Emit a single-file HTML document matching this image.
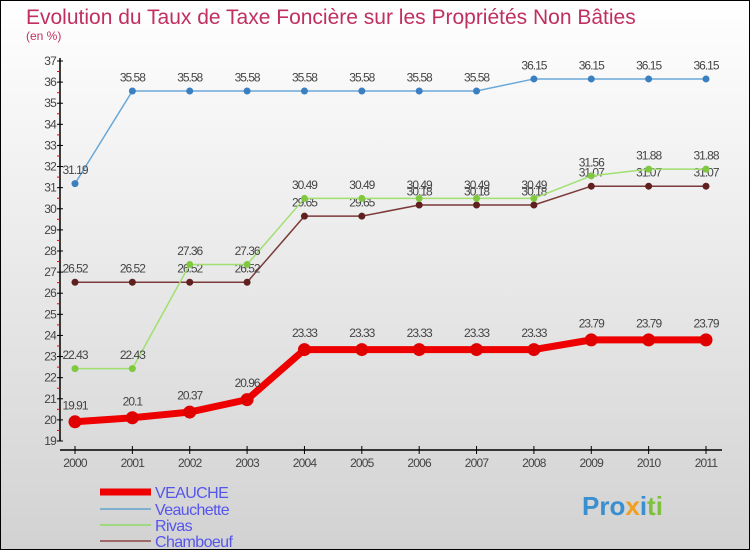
<!DOCTYPE html>
<html><head><meta charset="utf-8"><style>
body{margin:0;width:750px;height:550px;overflow:hidden;font-family:"Liberation Sans",sans-serif}
</style></head><body>
<svg width="750" height="550" xmlns="http://www.w3.org/2000/svg">
<defs><linearGradient id="bg" x1="0" y1="0" x2="0" y2="1"><stop offset="0" stop-color="#ffffff"/><stop offset="1" stop-color="#d2d2d2"/></linearGradient></defs>
<rect x="0.5" y="0.5" width="749" height="549" fill="url(#bg)" stroke="#000"/>
<text x="26" y="24" font-size="21" fill="#c0305f">Evolution du Taux de Taxe Foncière sur les Propriétés Non Bâties</text>
<text x="26" y="40" font-size="12" fill="#c0305f">(en %)</text>
<g id="axes"></g>
<g id="series"></g>
<g id="legend"></g>
<text x="582" y="515" font-size="26" font-weight="bold" fill="#3a8fd0">Pro<tspan fill="#f0a020">x</tspan><tspan fill="#3a8fd0">i</tspan><tspan fill="#80c040">ti</tspan></text>
</svg>
<script>
const years=[2000,2001,2002,2003,2004,2005,2006,2007,2008,2009,2010,2011];
const veauche=[19.91,20.1,20.37,20.96,23.33,23.33,23.33,23.33,23.33,23.79,23.79,23.79];
const veauchette=[31.19,35.58,35.58,35.58,35.58,35.58,35.58,35.58,36.15,36.15,36.15,36.15];
const rivas=[22.43,22.43,27.36,27.36,30.49,30.49,30.49,30.49,30.49,31.56,31.88,31.88];
const chamboeuf=[26.52,26.52,26.52,26.52,29.65,29.65,30.18,30.18,30.18,31.07,31.07,31.07];
const yTicks=[19,20,21,22,23,24,25,26,27,28,29,30,31,32,33,34,35,36,37];
const NS="http://www.w3.org/2000/svg";
function X(i){return 75+i*(706-75)/11;}
function Y(v){return 441-(v-19)*(441-61)/18;}
function mk(t,a,p){const e=document.createElementNS(NS,t);for(const k in a)e.setAttribute(k,a[k]);p.appendChild(e);return e;}
const ax=document.getElementById('axes');
const yl=mk('line',{x1:60,y1:58,x2:60,y2:441,stroke:'#000','stroke-width':1.5},ax);


yTicks.forEach(v=>{
 mk('line',{x1:57,y1:Y(v),x2:63,y2:Y(v),stroke:'#000'},ax);
 if(v<37)mk('line',{x1:57,y1:Y(v+0.5),x2:60,y2:Y(v+0.5),stroke:'#e00'},ax);
 const t=mk('text',{x:56,y:Y(v)+4,'font-size':12,fill:'#444','text-anchor':'end','letter-spacing':'-0.8'},ax);t.textContent=v;
 
 
});
const xl=mk('line',{x1:60,y1:450,x2:722,y2:450,stroke:'#000','stroke-width':1.5},ax);


years.forEach((y,i)=>{
 mk('line',{x1:X(i),y1:446,x2:X(i),y2:454,stroke:'#000'},ax);
 const t=mk('text',{x:X(i),y:467,'font-size':12,fill:'#444','text-anchor':'middle','letter-spacing':'-0.8'},ax);t.textContent=y;
 
 
});
const sg=document.getElementById('series');
function series(vals,color,dot,w,r,name){
 const g=mk('g',{},sg);
 
 
 mk('polyline',{points:vals.map((v,i)=>X(i)+','+Y(v)).join(' '),fill:'none',stroke:color,'stroke-width':w,'stroke-linejoin':'round'},g);
 vals.forEach((v,i)=>{
  const c=mk('circle',{cx:X(i),cy:Y(v),r:r,fill:dot},g);
  
  
  const t=mk('text',{x:X(i),y:Y(v)-(r+6),'font-size':12,fill:'#444','text-anchor':'middle','letter-spacing':'-1'},g);t.textContent=v;
  
  
 });
}
series(chamboeuf,'#7a3a3a','#602020',1.5,3.5,'chamboeuf');
series(rivas,'#a0e070','#80c840',1.5,3.5,'rivas');
series(veauchette,'#6aa8d8','#3a80c0',1.5,3.5,'veauchette');
series(veauche,'#ee0000','#e00000',7,6.5,'veauche');
const lg=document.getElementById('legend');
[['VEAUCHE','#ee0000',7,492],['Veauchette','#80b0d0',2,509],['Rivas','#a0d880',2,525],['Chamboeuf','#a06868',2,541]].forEach(([n,c,w,y])=>{
 const g=mk('g',{},lg);
 
 
 mk('line',{x1:100,y1:y,x2:151,y2:y,stroke:c,'stroke-width':w},g);
 const t=mk('text',{x:155,y:y+6,'font-size':16,fill:'#5555ee','letter-spacing':'-0.6'},g);t.textContent=n;
});
</script>
</body></html>
